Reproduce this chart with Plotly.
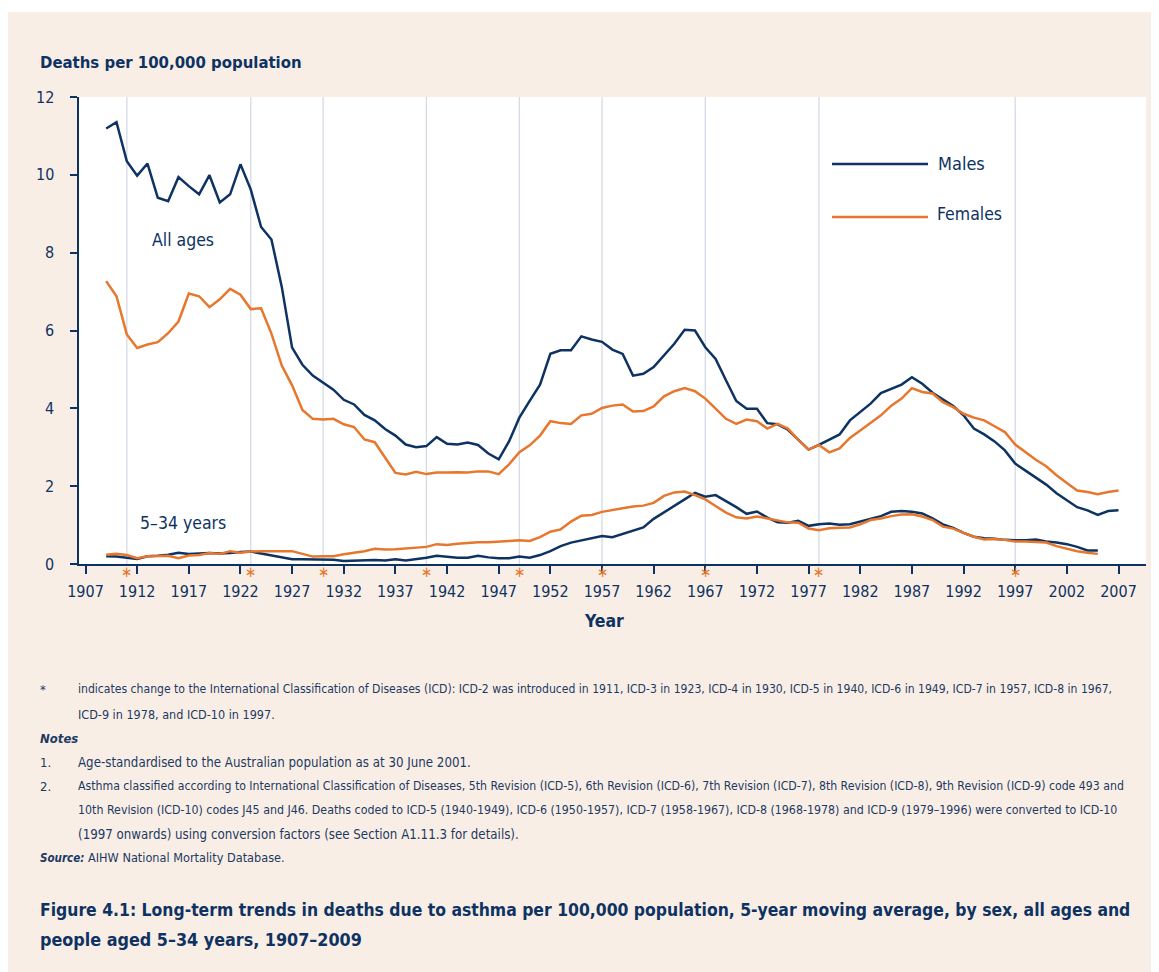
import plotly.graph_objects as go

# ---------------- data ----------------
years_all = list(range(1909, 2008))
males_all = [
    11.19, 11.35, 10.35, 9.98, 10.29, 9.41, 9.32, 9.94, 9.71, 9.50,
    9.99, 9.29, 9.50, 10.27, 9.62, 8.66, 8.34, 7.12, 5.56, 5.12,
    4.84, 4.66, 4.48, 4.22, 4.10, 3.83, 3.69, 3.47, 3.30, 3.07,
    3.00, 3.03, 3.26, 3.09, 3.07, 3.12, 3.06, 2.84, 2.69, 3.15,
    3.76, 4.19, 4.61, 5.40, 5.49, 5.49, 5.85, 5.77, 5.71, 5.51,
    5.40, 4.84, 4.89, 5.06, 5.36, 5.66, 6.02, 6.00, 5.57, 5.27,
    4.72, 4.19, 3.99, 3.99, 3.62, 3.59, 3.45, 3.19, 2.94, 3.06,
    3.19, 3.33, 3.69, 3.90, 4.12, 4.39, 4.50, 4.61, 4.80, 4.63,
    4.40, 4.23, 4.06, 3.82, 3.48, 3.33, 3.15, 2.92, 2.58, 2.40,
    2.22, 2.04, 1.82, 1.65, 1.46, 1.38, 1.26, 1.36, 1.38,
]
females_all = [
    7.27, 6.88, 5.90, 5.55, 5.64, 5.70, 5.93, 6.23, 6.95, 6.88,
    6.60, 6.80, 7.07, 6.92, 6.55, 6.57, 5.92, 5.10, 4.59, 3.96,
    3.73, 3.71, 3.73, 3.59, 3.52, 3.20, 3.13, 2.75, 2.34, 2.30,
    2.37, 2.31, 2.35, 2.35, 2.36, 2.35, 2.38, 2.38, 2.31, 2.56,
    2.87, 3.05, 3.30, 3.67, 3.62, 3.60, 3.82, 3.86, 4.01, 4.07,
    4.10, 3.92, 3.93, 4.05, 4.31, 4.44, 4.52, 4.44, 4.25, 3.99,
    3.73, 3.60, 3.71, 3.67, 3.48, 3.60, 3.48, 3.19, 2.94, 3.06,
    2.87, 2.97, 3.24, 3.43, 3.62, 3.82, 4.07, 4.25, 4.52, 4.42,
    4.38, 4.16, 4.03, 3.86, 3.76, 3.69, 3.54, 3.39, 3.07, 2.87,
    2.68, 2.51, 2.28, 2.08, 1.89, 1.85, 1.79, 1.85, 1.89,
]
years_534 = list(range(1909, 2006))
males_534 = [
    0.20, 0.19, 0.16, 0.13, 0.20, 0.21, 0.24, 0.29, 0.26, 0.27,
    0.28, 0.27, 0.28, 0.31, 0.32, 0.27, 0.22, 0.17, 0.12, 0.12,
    0.12, 0.11, 0.11, 0.08, 0.09, 0.09, 0.10, 0.09, 0.12, 0.09,
    0.12, 0.16, 0.21, 0.18, 0.16, 0.16, 0.21, 0.17, 0.15, 0.15,
    0.19, 0.16, 0.23, 0.33, 0.46, 0.55, 0.61, 0.66, 0.72, 0.69,
    0.77, 0.87, 0.94, 1.16, 1.32, 1.49, 1.66, 1.83, 1.73, 1.77,
    1.62, 1.46, 1.29, 1.35, 1.19, 1.07, 1.06, 1.11, 0.98, 1.02,
    1.04, 1.01, 1.02, 1.09, 1.15, 1.23, 1.34, 1.36, 1.34, 1.30,
    1.17, 1.02, 0.93, 0.80, 0.70, 0.66, 0.65, 0.62, 0.61, 0.61,
    0.63, 0.58, 0.55, 0.51, 0.44, 0.35, 0.35,
]
females_534 = [
    0.24, 0.26, 0.23, 0.15, 0.20, 0.21, 0.21, 0.15, 0.22, 0.23,
    0.28, 0.26, 0.33, 0.29, 0.32, 0.33, 0.33, 0.33, 0.33, 0.26,
    0.19, 0.20, 0.20, 0.25, 0.29, 0.33, 0.39, 0.37, 0.38, 0.40,
    0.42, 0.44, 0.51, 0.49, 0.52, 0.54, 0.56, 0.56, 0.57, 0.59,
    0.61, 0.59, 0.69, 0.83, 0.89, 1.09, 1.24, 1.26, 1.34, 1.38,
    1.43, 1.48, 1.50, 1.57, 1.75, 1.84, 1.86, 1.77, 1.66, 1.49,
    1.32, 1.20, 1.17, 1.22, 1.17, 1.11, 1.07, 1.06, 0.91, 0.87,
    0.92, 0.93, 0.94, 1.02, 1.13, 1.17, 1.23, 1.27, 1.28, 1.22,
    1.13, 0.96, 0.91, 0.80, 0.70, 0.63, 0.64, 0.62, 0.58, 0.58,
    0.56, 0.55, 0.46, 0.39, 0.33, 0.29, 0.26,
]
icd_years = [1911, 1923, 1930, 1940, 1949, 1957, 1967, 1978, 1997]
x_ticks = list(range(1907, 2008, 5))
y_ticks = [0, 2, 4, 6, 8, 10, 12]
series_names = ["Males", "Females"]
group_labels = ["All ages", "5\u201334 years"]

# ---------------- style ----------------
NAVY = "#0e3362"
ORANGE = "#e8772e"
PEACH = "#f9eee6"
GRID = "#d3dbe5"
TEXT = "#1c3a62"
FONT = "DejaVu Sans Condensed, Roboto Condensed, Liberation Sans, sans-serif"

OFF = 8                       # page offset of the figure (body margin)
W, H = 1159 - OFF, 972 - OFF  # figure size
PL, PR, PT, PB = 79, 1146, 97, 564   # plot area in page pixels


def px(xp):
    return (xp - PL) / (PR - PL)


def py(yp):
    return (PB - yp) / (PB - PT)


fig = go.Figure()
for xs, ys, col in [(years_all, males_all, NAVY), (years_all, females_all, ORANGE),
                    (years_534, males_534, NAVY), (years_534, females_534, ORANGE)]:
    fig.add_trace(go.Scatter(x=xs, y=ys, mode="lines",
                             line=dict(color=col, width=2.5), showlegend=False,
                             hoverinfo="x+y"))

shapes = []
for yr in icd_years:
    shapes.append(dict(type="line", xref="x", yref="paper", x0=yr, x1=yr, y0=0, y1=1,
                       line=dict(color=GRID, width=1.3), layer="below"))
# legend lines
shapes.append(dict(type="line", xref="paper", yref="paper", x0=px(832), x1=px(928),
                   y0=py(164), y1=py(164), line=dict(color=NAVY, width=2.5)))
shapes.append(dict(type="line", xref="paper", yref="paper", x0=px(832), x1=px(928),
                   y0=py(217), y1=py(217), line=dict(color=ORANGE, width=2.5)))
# thin white strip at top of page
shapes.append(dict(type="rect", xref="paper", yref="paper", x0=px(0), x1=px(1200),
                   y0=py(12), y1=py(0), fillcolor="white", line=dict(width=0), layer="above"))

ann = []
# ICD change asterisks just below the axis
for yr in icd_years:
    ann.append(dict(x=yr, y=0, xref="x", yref="y", text="\u2217", showarrow=False,
                    yanchor="middle", yshift=-8,
                    font=dict(color=ORANGE, size=15, family=FONT)))
# y tick labels
for v in y_ticks:
    ann.append(dict(x=px(56), y=v, xref="paper", yref="y", text=str(v), showarrow=False,
                    xanchor="right", yanchor="middle",
                    font=dict(color=NAVY, size=16, family=FONT)))


def txt(x, y, s, size=13.0, color=TEXT, xanchor="left"):
    ann.append(dict(x=px(x), y=py(y), xref="paper", yref="paper", text=s, showarrow=False,
                    xanchor=xanchor, yanchor="middle", align="left",
                    font=dict(size=size, color=color, family=FONT)))


txt(936, 163, series_names[0], size=18, color=NAVY)
txt(935, 214, series_names[1], size=17.5, color=NAVY)
txt(183, 240, group_labels[0], size=17.5, color=NAVY, xanchor="center")
txt(183, 523, group_labels[1], size=17.5, color=NAVY, xanchor="center")
txt(38, 62, "<b>Deaths per 100,000 population</b>", size=16.6, color=NAVY)
txt(604, 621, "<b>Year</b>", size=17.5, color=NAVY, xanchor="center")

# footer
txt(38, 689, "*")
txt(76, 689, "indicates change to the International Classification of Diseases (ICD): ICD-2 was introduced in 1911, ICD-3 in 1923, ICD-4 in 1930, ICD-5 in 1940, ICD-6 in 1949, ICD-7 in 1957, ICD-8 in 1967,", size=12.1)
txt(76, 714, "ICD-9 in 1978, and ICD-10 in 1997.", size=12.5)
txt(38, 738, "<b><i>Notes</i></b>")
txt(38, 762, "1.")
txt(76, 762, "Age-standardised to the Australian population as at 30 June 2001.", size=13.2)
txt(38, 786, "2.")
txt(76, 786, "Asthma classified according to International Classification of Diseases, 5th Revision (ICD-5), 6th Revision (ICD-6), 7th Revision (ICD-7), 8th Revision (ICD-8), 9th Revision (ICD-9) code 493 and", size=12.2)
txt(76, 810, "10th Revision (ICD-10) codes J45 and J46. Deaths coded to ICD-5 (1940-1949), ICD-6 (1950-1957), ICD-7 (1958-1967), ICD-8 (1968-1978) and ICD-9 (1979\u20131996) were converted to ICD-10", size=12.3)
txt(76, 834, "(1997 onwards) using conversion factors (see Section A1.11.3 for details).", size=13.2)
txt(38, 858, "<b><i>Source:</i></b>", size=11.5)
txt(86, 858, "AIHW National Mortality Database.", size=12.6)
txt(38, 910, "<b>Figure 4.1: Long-term trends in deaths due to asthma per 100,000 population, 5-year moving average, by sex, all ages and</b>", size=17.4, color=NAVY)
txt(38, 940, "<b>people aged 5\u201334 years, 1907\u20132009</b>", size=17.8, color=NAVY)

x0_val = 1907 - (85.5 - PL) / 10.33
x1_val = 1907 + (PR - 85.5) / 10.33

fig.update_layout(
    width=W, height=H,
    margin=dict(l=PL - OFF, r=(OFF + W) - PR, t=PT - OFF, b=(OFF + H) - PB, pad=0),
    paper_bgcolor=PEACH, plot_bgcolor="white",
    font=dict(family=FONT, color=TEXT, size=16),
    shapes=shapes, annotations=ann,
    xaxis=dict(range=[x0_val, x1_val], tickvals=x_ticks, ticks="outside", ticklen=8,
               tickwidth=1.5, tickcolor=NAVY, showline=True, linecolor=NAVY, linewidth=1.5,
               showgrid=False, zeroline=False, ticklabelstandoff=4,
               tickfont=dict(size=16, color=NAVY, family=FONT)),
    yaxis=dict(range=[0, 12], tickvals=y_ticks, ticks="outside", ticklen=7,
               tickwidth=1.5, tickcolor=NAVY, showline=True, linecolor=NAVY, linewidth=1.5,
               showgrid=False, zeroline=False, showticklabels=False),
)

fig.write_html("out.html",
               post_script="document.documentElement.style.overflow='hidden';")
